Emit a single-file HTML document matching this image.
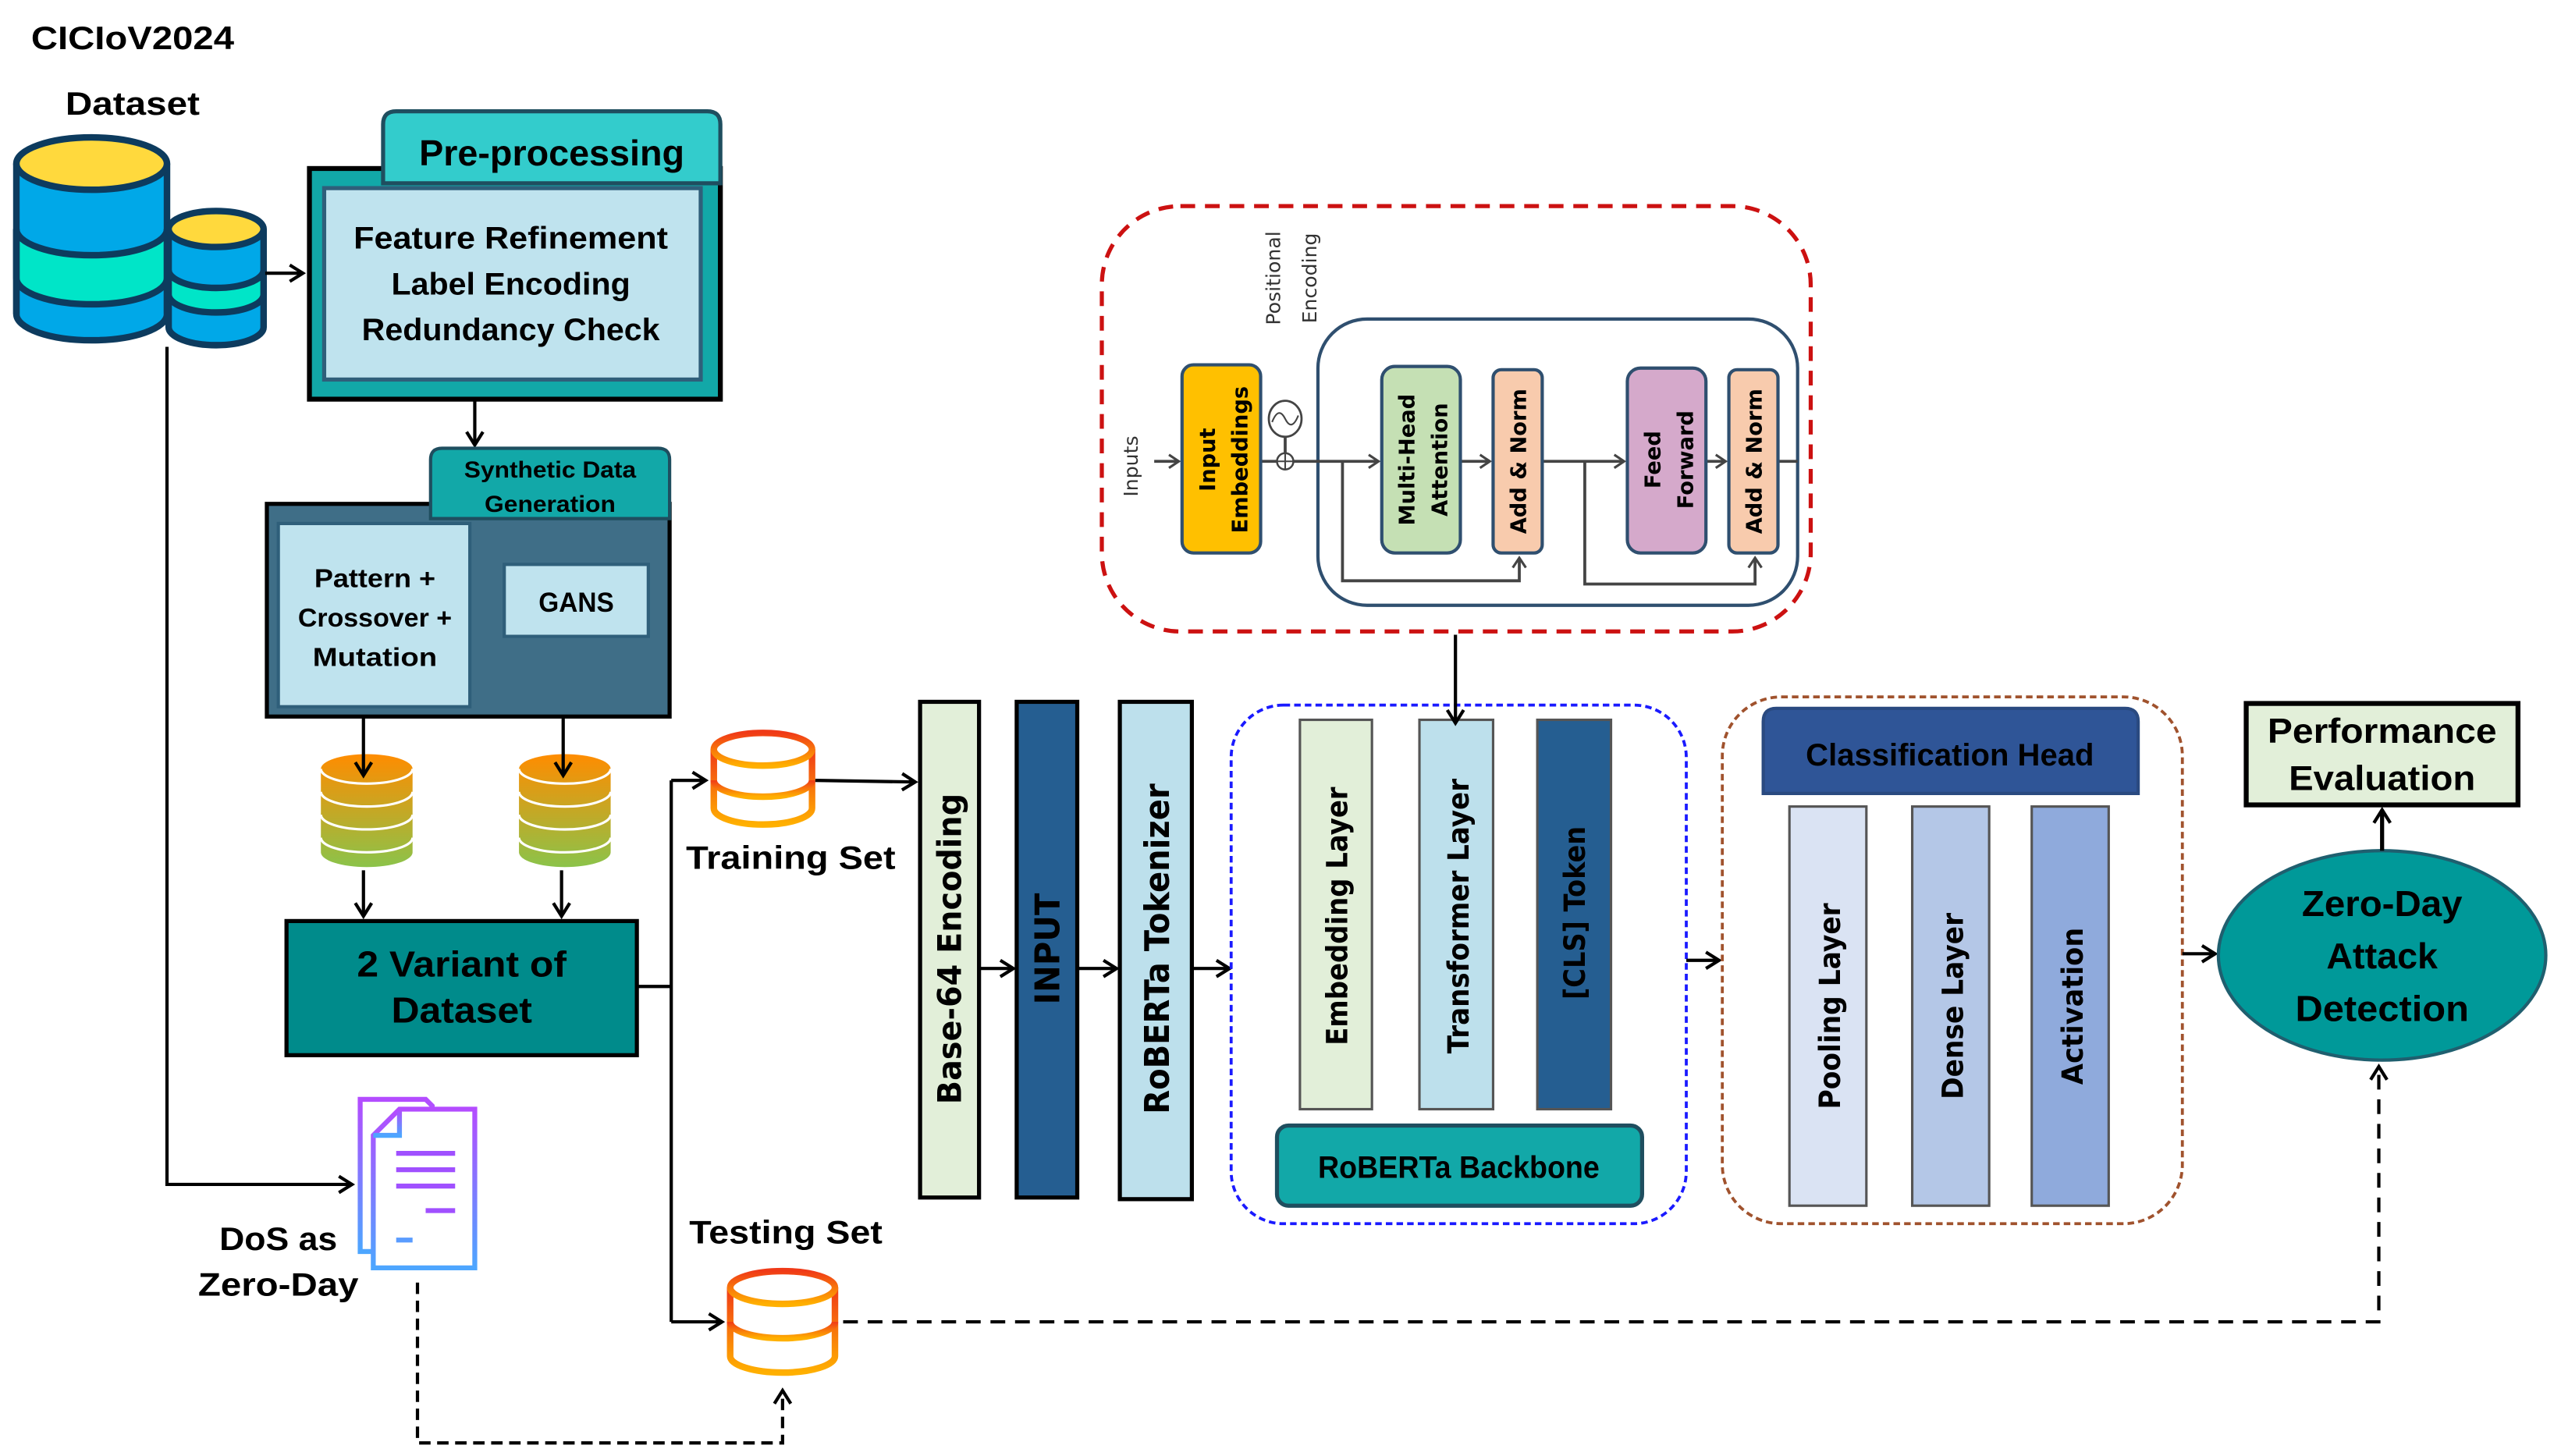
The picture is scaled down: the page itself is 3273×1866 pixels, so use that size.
<!DOCTYPE html>
<html><head><meta charset="utf-8"><style>
html,body{margin:0;padding:0;background:#fff;}
svg{display:block;}
.c{font-family:"Liberation Sans",sans-serif;font-weight:bold;fill:#000;text-anchor:middle;}
.v{font-family:"DejaVu Sans","Liberation Sans",sans-serif;font-weight:bold;fill:#000;text-anchor:middle;}
</style></head><body>
<svg width="3273" height="1866" viewBox="0 0 1560 890" preserveAspectRatio="none" xmlns="http://www.w3.org/2000/svg">
<defs>
<marker id="a" markerWidth="12" markerHeight="12" refX="10" refY="6" orient="auto" markerUnits="userSpaceOnUse"><path d="M2,1 L10,6 L2,11" fill="none" stroke="#000" stroke-width="2"/></marker>
<marker id="ag" markerWidth="10" markerHeight="10" refX="8" refY="5" orient="auto" markerUnits="userSpaceOnUse"><path d="M2,1 L8,5 L2,9" fill="none" stroke="#444" stroke-width="1.5"/></marker>
<linearGradient id="og" x1="0" y1="0" x2="0" y2="1"><stop offset="0" stop-color="#FF8C00"/><stop offset="1" stop-color="#8BC34A"/></linearGradient>
<linearGradient id="rg" x1="0" y1="0" x2="0" y2="1"><stop offset="0" stop-color="#F03A17"/><stop offset="1" stop-color="#FFB000"/></linearGradient>
<linearGradient id="pg" x1="0" y1="0" x2="0" y2="1"><stop offset="0" stop-color="#B44CFF"/><stop offset="1" stop-color="#4DA6FF"/></linearGradient>
</defs>

<text class="c" x="81" y="30" font-size="20" textLength="124" lengthAdjust="spacingAndGlyphs">CICIoV2024</text>
<text class="c" x="81" y="70" font-size="20" textLength="82" lengthAdjust="spacingAndGlyphs">Dataset</text>

<g stroke="#0D3B5E" stroke-width="4">
<path d="M10,100 V192 A46,16 0 0 0 102,192 V100" fill="#00A8E8"/>
<path d="M10,140 A46,16 0 0 0 102,140 V170 A46,16 0 0 1 10,170 Z" fill="#00E5C8"/>
<ellipse cx="56" cy="100" rx="46" ry="16" fill="#FFD93D"/>
<path d="M102,140 V192 M10,140 V192" fill="none"/>
</g>
<g stroke="#0D3B5E" stroke-width="4">
<path d="M103,140 V200 A29,11 0 0 0 161,200 V140" fill="#00A8E8"/>
<path d="M103,165 A29,11 0 0 0 161,165 V180 A29,11 0 0 1 103,180 Z" fill="#00E5C8"/>
<ellipse cx="132" cy="140" rx="29" ry="11" fill="#FFD93D"/>
</g>
<line x1="162" y1="167" x2="185" y2="167" stroke="#000" stroke-width="2" marker-end="url(#a)"/>

<rect x="189" y="103" width="251" height="141" fill="#12A8A8" stroke="#000" stroke-width="3"/>
<path d="M234,112 V76 Q234,68 242,68 H432 Q440,68 440,76 V112 Z" fill="#33CCCC" stroke="#1F4E5F" stroke-width="2.5"/>
<rect x="198" y="115" width="230" height="117" fill="#BFE3EE" stroke="#2F5F7A" stroke-width="2.5"/>
<text class="c" x="337" y="101" font-size="22" textLength="162" lengthAdjust="spacingAndGlyphs">Pre-processing</text>
<text class="c" x="312" y="152" font-size="19" textLength="192" lengthAdjust="spacingAndGlyphs">Feature Refinement</text>
<text class="c" x="312" y="180" font-size="19" textLength="146" lengthAdjust="spacingAndGlyphs">Label Encoding</text>
<text class="c" x="312" y="208" font-size="19" textLength="182" lengthAdjust="spacingAndGlyphs">Redundancy Check</text>
<line x1="290" y1="244" x2="290" y2="272" stroke="#000" stroke-width="2" marker-end="url(#a)"/>

<rect x="163" y="308" width="246" height="130" fill="#3F6E87" stroke="#000" stroke-width="2.5"/>
<path d="M263,317 V281 Q263,274 270,274 H402 Q409,274 409,281 V317 Z" fill="#12A8A8" stroke="#1F4E5F" stroke-width="2"/>
<text class="c" x="336" y="292" font-size="14" textLength="105" lengthAdjust="spacingAndGlyphs">Synthetic Data</text>
<text class="c" x="336" y="313" font-size="14" textLength="80" lengthAdjust="spacingAndGlyphs">Generation</text>
<rect x="170" y="320" width="117" height="112" fill="#BFE3EE" stroke="#2F5F7A" stroke-width="2"/>
<text class="c" x="229" y="359" font-size="16" textLength="74" lengthAdjust="spacingAndGlyphs">Pattern +</text>
<text class="c" x="229" y="383" font-size="16" textLength="94" lengthAdjust="spacingAndGlyphs">Crossover +</text>
<text class="c" x="229" y="407" font-size="16" textLength="76" lengthAdjust="spacingAndGlyphs">Mutation</text>
<rect x="308" y="345" width="88" height="44" fill="#BFE3EE" stroke="#2F5F7A" stroke-width="2"/>
<text class="c" x="352" y="374" font-size="17" textLength="46" lengthAdjust="spacingAndGlyphs">GANS</text>

<g>
<path d="M196,470 V521 A28,9 0 0 0 252,521 V470 A28,9 0 0 0 196,470 Z" fill="url(#og)"/>
<g fill="none" stroke="#fff" stroke-width="1.5">
<path d="M196,470 A28,9 0 0 0 252,470"/><path d="M196,484 A28,9 0 0 0 252,484"/><path d="M196,498 A28,9 0 0 0 252,498"/><path d="M196,512 A28,9 0 0 0 252,512"/></g>
<path d="M317,470 V521 A28,9 0 0 0 373,521 V470 A28,9 0 0 0 317,470 Z" fill="url(#og)"/>
<g fill="none" stroke="#fff" stroke-width="1.5">
<path d="M317,470 A28,9 0 0 0 373,470"/><path d="M317,484 A28,9 0 0 0 373,484"/><path d="M317,498 A28,9 0 0 0 373,498"/><path d="M317,512 A28,9 0 0 0 373,512"/></g>
</g>
<line x1="222" y1="438" x2="222" y2="474" stroke="#000" stroke-width="2" marker-end="url(#a)"/>
<line x1="344" y1="438" x2="344" y2="474" stroke="#000" stroke-width="2" marker-end="url(#a)"/>
<line x1="222" y1="532" x2="222" y2="560" stroke="#000" stroke-width="2" marker-end="url(#a)"/>
<line x1="343" y1="532" x2="343" y2="560" stroke="#000" stroke-width="2" marker-end="url(#a)"/>

<rect x="175" y="563" width="214" height="82" fill="#008B8B" stroke="#000" stroke-width="2.5"/>
<text class="c" x="282" y="597" font-size="22" textLength="128" lengthAdjust="spacingAndGlyphs">2 Variant of</text>
<text class="c" x="282" y="625" font-size="22" textLength="86" lengthAdjust="spacingAndGlyphs">Dataset</text>

<path d="M389,603 H410 M410,477 V808" stroke="#000" stroke-width="2" fill="none"/>
<line x1="410" y1="477" x2="431" y2="477" stroke="#000" stroke-width="2" marker-end="url(#a)"/>
<line x1="410" y1="808" x2="441" y2="808" stroke="#000" stroke-width="2" marker-end="url(#a)"/>

<g fill="#fff" stroke="url(#rg)" stroke-width="4">
<path d="M436,458 V494 A30,10 0 0 0 496,494 V458"/>
<ellipse cx="466" cy="458" rx="30" ry="10"/>
<path d="M436,477 A30,10 0 0 0 496,477" fill="none"/>
</g>
<text class="c" x="483" y="531" font-size="20" textLength="128" lengthAdjust="spacingAndGlyphs">Training Set</text>
<line x1="498" y1="477" x2="559" y2="478" stroke="#000" stroke-width="2" marker-end="url(#a)"/>

<g fill="#fff" stroke="url(#rg)" stroke-width="4">
<path d="M446,787 V829 A32,10 0 0 0 510,829 V787"/>
<ellipse cx="478" cy="787" rx="32" ry="10"/>
<path d="M446,808 A32,10 0 0 0 510,808" fill="none"/>
</g>
<text class="c" x="480" y="760" font-size="20" textLength="118" lengthAdjust="spacingAndGlyphs">Testing Set</text>
<path d="M515,808 H1453 V652" stroke="#000" stroke-width="2" fill="none" stroke-dasharray="9,6" marker-end="url(#a)"/>

<path d="M102,212 V724 H215" stroke="#000" stroke-width="2" fill="none" marker-end="url(#a)"/>

<g fill="#fff" stroke="url(#pg)" stroke-width="3">
<path d="M220,672 H260 L264,676 V765 H220 Z"/>
<path d="M228,694 L244,678 H290 V775 H228 Z"/>
<path d="M228,694 H244 V678" fill="none"/>
</g>
<g stroke="#A050FF" stroke-width="3"><line x1="242" y1="705" x2="278" y2="705"/><line x1="242" y1="715" x2="278" y2="715"/><line x1="242" y1="725" x2="278" y2="725"/><line x1="260" y1="740" x2="278" y2="740"/></g>
<line x1="242" y1="758" x2="252" y2="758" stroke="#5A9CFF" stroke-width="3"/>
<text class="c" x="170" y="764" font-size="20" textLength="72" lengthAdjust="spacingAndGlyphs">DoS as</text>
<text class="c" x="170" y="792" font-size="20" textLength="98" lengthAdjust="spacingAndGlyphs">Zero-Day</text>
<path d="M255,784 V882 H478 V850" stroke="#000" stroke-width="2" fill="none" stroke-dasharray="7,4" marker-end="url(#a)"/>

<rect x="562" y="429" width="36" height="303" fill="#E2EFD9" stroke="#000" stroke-width="2.5"/>
<text class="v" transform="translate(587,580) rotate(-90)" font-size="20" textLength="190" lengthAdjust="spacingAndGlyphs">Base-64 Encoding</text>
<line x1="598" y1="592" x2="619" y2="592" stroke="#000" stroke-width="2" marker-end="url(#a)"/>
<rect x="621" y="429" width="37" height="303" fill="#255E91" stroke="#000" stroke-width="2.5"/>
<text class="v" transform="translate(647,580) rotate(-90)" font-size="21" textLength="68" lengthAdjust="spacingAndGlyphs">INPUT</text>
<line x1="658" y1="592" x2="682" y2="592" stroke="#000" stroke-width="2" marker-end="url(#a)"/>
<rect x="684" y="429" width="44" height="304" fill="#BDE0EC" stroke="#000" stroke-width="2.5"/>
<text class="v" transform="translate(714,580) rotate(-90)" font-size="21" textLength="202" lengthAdjust="spacingAndGlyphs">RoBERTa Tokenizer</text>
<line x1="728" y1="592" x2="751" y2="592" stroke="#000" stroke-width="2" marker-end="url(#a)"/>

<rect x="752" y="431" width="278" height="317" rx="32" fill="none" stroke="#1A1AFF" stroke-width="1.8" stroke-dasharray="4,2.5"/>
<rect x="794" y="440" width="44" height="238" fill="#E2EFD9" stroke="#555" stroke-width="1.5"/>
<text class="v" transform="translate(823,560) rotate(-90)" font-size="18" textLength="158" lengthAdjust="spacingAndGlyphs">Embedding Layer</text>
<rect x="867" y="440" width="45" height="238" fill="#BDE0EC" stroke="#555" stroke-width="1.5"/>
<text class="v" transform="translate(897,560) rotate(-90)" font-size="18" textLength="168" lengthAdjust="spacingAndGlyphs">Transformer Layer</text>
<rect x="939" y="440" width="45" height="238" fill="#255E91" stroke="#555" stroke-width="1.5"/>
<text class="v" transform="translate(968,558) rotate(-90)" font-size="18" textLength="106" lengthAdjust="spacingAndGlyphs">[CLS] Token</text>
<rect x="780" y="688" width="223" height="49" rx="7" fill="#12A8A8" stroke="#1F4E5F" stroke-width="2.5"/>
<text class="c" x="891" y="720" font-size="19" textLength="172" lengthAdjust="spacingAndGlyphs">RoBERTa Backbone</text>
<line x1="889" y1="388" x2="889" y2="442" stroke="#000" stroke-width="2" marker-end="url(#a)"/>

<rect x="673" y="126" width="433" height="260" rx="48" fill="none" stroke="#CC1111" stroke-width="2.5" stroke-dasharray="9,6"/>
<rect x="805" y="195" width="293" height="175" rx="30" fill="none" stroke="#2F4F6F" stroke-width="2"/>
<text transform="translate(695,285) rotate(-90)" font-family="'DejaVu Sans',sans-serif" font-size="12" fill="#333" text-anchor="middle">Inputs</text>
<text transform="translate(782,170) rotate(-90)" font-family="'DejaVu Sans',sans-serif" font-size="12" fill="#333" text-anchor="middle">Positional</text>
<text transform="translate(804,170) rotate(-90)" font-family="'DejaVu Sans',sans-serif" font-size="12" fill="#333" text-anchor="middle">Encoding</text>
<g stroke="#444" stroke-width="1.8" fill="none">
<line x1="705" y1="282" x2="720" y2="282" marker-end="url(#ag)"/>
<line x1="770" y1="282" x2="842" y2="282" marker-end="url(#ag)"/>
<line x1="892" y1="282" x2="910" y2="282" marker-end="url(#ag)"/>
<line x1="942" y1="282" x2="992" y2="282" marker-end="url(#ag)"/>
<line x1="1042" y1="282" x2="1054" y2="282" marker-end="url(#ag)"/>
<line x1="1086" y1="282" x2="1098" y2="282"/>
<path d="M820,282 V355 H928 V341" marker-end="url(#ag)"/>
<path d="M968,282 V357 H1072 V341" marker-end="url(#ag)"/>
<line x1="785" y1="267" x2="785" y2="277"/>
</g>
<ellipse cx="785" cy="256" rx="10" ry="11" fill="#fff" stroke="#444" stroke-width="1.3"/>
<path d="M777,258 Q781,248 785,256 Q789,264 793,254" fill="none" stroke="#444" stroke-width="1"/>
<circle cx="785" cy="282" r="5" fill="#fff" stroke="#444" stroke-width="1.2"/>
<path d="M780,282 H790 M785,277 V287" stroke="#444" stroke-width="1"/>
<rect x="722" y="223" width="48" height="115" rx="7" fill="#FFC000" stroke="#2F4F6F" stroke-width="2"/>
<text class="v" transform="translate(742,281) rotate(-90)" font-size="13">Input</text>
<text class="v" transform="translate(762,281) rotate(-90)" font-size="13">Embeddings</text>
<rect x="844" y="224" width="48" height="114" rx="8" fill="#C5E0B4" stroke="#2F4F6F" stroke-width="2"/>
<text class="v" transform="translate(864,281) rotate(-90)" font-size="13">Multi-Head</text>
<text class="v" transform="translate(884,281) rotate(-90)" font-size="13">Attention</text>
<rect x="912" y="226" width="30" height="112" rx="5" fill="#F8CBAD" stroke="#2F4F6F" stroke-width="2"/>
<text class="v" transform="translate(932,282) rotate(-90)" font-size="13">Add &amp; Norm</text>
<rect x="994" y="225" width="48" height="113" rx="8" fill="#D5A9CB" stroke="#2F4F6F" stroke-width="2"/>
<text class="v" transform="translate(1014,281) rotate(-90)" font-size="13">Feed</text>
<text class="v" transform="translate(1034,281) rotate(-90)" font-size="13">Forward</text>
<rect x="1056" y="226" width="30" height="112" rx="5" fill="#F8CBAD" stroke="#2F4F6F" stroke-width="2"/>
<text class="v" transform="translate(1076,282) rotate(-90)" font-size="13">Add &amp; Norm</text>

<line x1="1030" y1="587" x2="1050" y2="587" stroke="#000" stroke-width="2" marker-end="url(#a)"/>

<rect x="1052" y="426" width="281" height="322" rx="36" fill="none" stroke="#A0522D" stroke-width="1.8" stroke-dasharray="4,2.5"/>
<path d="M1077,485 V441 Q1077,433 1085,433 H1298 Q1306,433 1306,441 V485 Z" fill="#2F5597" stroke="#2A4A80" stroke-width="2"/>
<text class="c" x="1191" y="468" font-size="19" textLength="176" lengthAdjust="spacingAndGlyphs">Classification Head</text>
<rect x="1093" y="493" width="47" height="244" fill="#DAE3F3" stroke="#555" stroke-width="1.5"/>
<text class="v" transform="translate(1124,615) rotate(-90)" font-size="18" textLength="126" lengthAdjust="spacingAndGlyphs">Pooling Layer</text>
<rect x="1168" y="493" width="47" height="244" fill="#B4C7E7" stroke="#555" stroke-width="1.5"/>
<text class="v" transform="translate(1199,615) rotate(-90)" font-size="18" textLength="114" lengthAdjust="spacingAndGlyphs">Dense Layer</text>
<rect x="1241" y="493" width="47" height="244" fill="#8FAADC" stroke="#555" stroke-width="1.5"/>
<text class="v" transform="translate(1272,615) rotate(-90)" font-size="18" textLength="96" lengthAdjust="spacingAndGlyphs">Activation</text>

<line x1="1333" y1="583" x2="1353" y2="583" stroke="#000" stroke-width="2" marker-end="url(#a)"/>

<ellipse cx="1455" cy="584" rx="100" ry="64" fill="#009999" stroke="#1F5F6F" stroke-width="2"/>
<text class="c" x="1455" y="560" font-size="22" textLength="98" lengthAdjust="spacingAndGlyphs">Zero-Day</text>
<text class="c" x="1455" y="592" font-size="22" textLength="68" lengthAdjust="spacingAndGlyphs">Attack</text>
<text class="c" x="1455" y="624" font-size="22" textLength="106" lengthAdjust="spacingAndGlyphs">Detection</text>
<line x1="1455" y1="520" x2="1455" y2="495" stroke="#000" stroke-width="2.5" marker-end="url(#a)"/>

<rect x="1372" y="430" width="166" height="62" fill="#E2EFD9" stroke="#000" stroke-width="3"/>
<text class="c" x="1455" y="454" font-size="21" textLength="140" lengthAdjust="spacingAndGlyphs">Performance</text>
<text class="c" x="1455" y="483" font-size="21" textLength="114" lengthAdjust="spacingAndGlyphs">Evaluation</text>
</svg>
</body></html>
